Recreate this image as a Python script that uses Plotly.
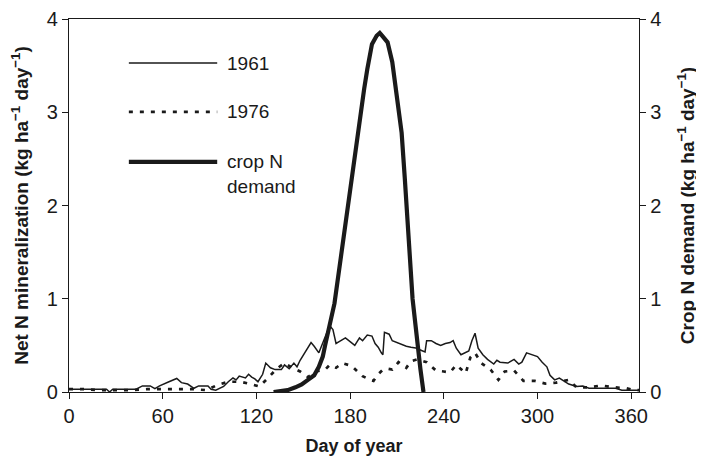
import plotly.graph_objects as go

# ---- data ----
days_1961 = [0, 10, 20, 24, 26, 28, 35, 43, 47, 52, 55, 58, 64, 69, 72, 76, 80, 83, 89, 91, 94, 99,
             102, 105, 107, 109, 113, 115, 117, 119, 121, 124, 126, 129, 132, 136, 138, 141, 144, 146,
             148, 151, 155, 157, 160, 164, 167, 169, 171, 173, 177, 180, 183, 186, 188, 191, 194, 196,
             198, 200, 201, 202, 205, 207, 210, 213, 216, 219, 223, 225, 228, 229, 232, 235, 238, 241,
             244, 246, 248, 251, 254, 256, 258, 260, 262, 265, 268, 272, 274, 276, 281, 285, 288, 290,
             293, 296, 300, 303, 306, 308, 311, 314, 317, 320, 325, 329, 333, 336, 343, 350, 354, 365]
vals_1961 = [0.03, 0.03, 0.03, 0.03, 0.0, 0.03, 0.03, 0.03, 0.065, 0.065, 0.035, 0.065, 0.11, 0.145,
             0.10, 0.085, 0.04, 0.065, 0.065, 0.03, 0.02, 0.06, 0.11, 0.15, 0.13, 0.17, 0.15, 0.19, 0.16,
             0.14, 0.11, 0.19, 0.31, 0.26, 0.24, 0.24, 0.29, 0.25, 0.31, 0.27, 0.34, 0.42, 0.53, 0.49,
             0.42, 0.59, 0.71, 0.67, 0.52, 0.54, 0.58, 0.54, 0.50, 0.58, 0.55, 0.61, 0.60, 0.52, 0.48,
             0.42, 0.40, 0.64, 0.62, 0.55, 0.53, 0.51, 0.49, 0.48, 0.47, 0.45, 0.43, 0.55, 0.55, 0.52,
             0.50, 0.52, 0.53, 0.55, 0.47, 0.40, 0.42, 0.44, 0.55, 0.63, 0.47, 0.40, 0.35, 0.30, 0.34,
             0.32, 0.31, 0.35, 0.30, 0.32, 0.42, 0.40, 0.38, 0.32, 0.27, 0.18, 0.13, 0.15, 0.12, 0.085,
             0.06, 0.065, 0.04, 0.04, 0.04, 0.04, 0.02, 0.02]

days_1976 = [0, 10, 20, 30, 40, 50, 60, 70, 80, 88, 95, 102, 110, 115, 122, 128, 133, 138, 143, 148,
             153, 158, 164, 167, 171, 175, 181, 186, 188, 193, 195, 198, 201, 204, 207, 211, 216, 219,
             223, 229, 235, 240, 244, 248, 254, 257, 260, 264, 270, 275, 279, 285, 291, 298, 305, 312,
             320, 325, 333, 341, 349, 357, 362, 365]
vals_1976 = [0.03, 0.03, 0.02, 0.02, 0.02, 0.03, 0.03, 0.03, 0.03, 0.02, 0.075, 0.11, 0.11, 0.09, 0.06,
             0.16, 0.25, 0.31, 0.26, 0.22, 0.16, 0.22, 0.24, 0.29, 0.26, 0.31, 0.28, 0.20, 0.17, 0.13,
             0.12, 0.19, 0.24, 0.25, 0.24, 0.32, 0.26, 0.33, 0.35, 0.32, 0.23, 0.22, 0.21, 0.29, 0.20,
             0.37, 0.42, 0.31, 0.24, 0.13, 0.22, 0.23, 0.12, 0.12, 0.09, 0.10, 0.13, 0.05, 0.05, 0.07,
             0.05, 0.04, 0.02, 0.02]

days_crop = [131, 136, 140, 145, 149, 153, 157, 160, 162.5, 164, 166, 168, 170, 172, 175, 178, 181,
             184, 187, 189, 191, 194, 197, 199, 201, 204, 207, 209.5, 211, 213, 215, 217, 219, 220,
             222, 223.5, 225, 227]
vals_crop = [0, 0.01, 0.02, 0.05, 0.08, 0.13, 0.18, 0.27, 0.38, 0.5, 0.67, 0.8, 0.95, 1.2, 1.55, 1.9,
             2.25, 2.65, 3.03, 3.25, 3.46, 3.73, 3.82, 3.85, 3.81, 3.75, 3.54, 3.25, 3.05, 2.78, 2.3,
             1.8, 1.3, 1.0, 0.7, 0.45, 0.25, 0]

x_ticks = [0, 60, 120, 180, 240, 300, 360]
y_ticks = [0, 1, 2, 3, 4]
legend_labels = ["1961", "1976", "crop N<br>demand"]

INK = "#1a1a1a"
FONT = "Liberation Sans, Arial, Helvetica, sans-serif"
style_1961 = dict(color=INK, width=1.5)
style_1976 = dict(color=INK, width=2.7, dash="4px,7px")
style_crop = dict(color=INK, width=4.2)

fig = go.Figure()
fig.add_trace(go.Scatter(x=days_1961, y=vals_1961, mode="lines", line=style_1961,
                         name="1961", showlegend=False))
fig.add_trace(go.Scatter(x=days_1976, y=vals_1976, mode="lines", line=style_1976,
                         name="1976", showlegend=False))
fig.add_trace(go.Scatter(x=days_crop, y=vals_crop, mode="lines", line=style_crop,
                         name="crop N demand", yaxis="y2", showlegend=False))

# manual legend (paper coordinates)
leg_y = [0.882, 0.751, 0.617]
for yy, st in zip(leg_y, [style_1961, style_1976, style_crop]):
    fig.add_shape(type="line", xref="paper", yref="paper", x0=0.105, x1=0.26, y0=yy, y1=yy,
                  line=st)
for yy, lab in zip(leg_y, legend_labels):
    two = "<br>" in lab
    fig.add_annotation(xref="paper", yref="paper", x=0.274, y=yy, text=lab, showarrow=False,
                       xanchor="left", yanchor="top" if two else "middle",
                       yshift=13 if two else 0,
                       align="left", font=dict(size=19, color=INK, family=FONT))

axis_common = dict(showline=True, linecolor=INK, linewidth=1.3, ticks="outside", ticklen=6,
                   tickcolor=INK, tickwidth=1.3, showgrid=False, zeroline=False, automargin=False,
                   tickfont=dict(size=20, color=INK, family=FONT))

fig.update_layout(
    width=704, height=457,
    margin=dict(l=61, r=73, t=11, b=73),
    paper_bgcolor="white", plot_bgcolor="white",
    font=dict(family=FONT, color=INK),
    xaxis=dict(range=[0, 365], tickvals=x_ticks, mirror=True,
               title=dict(text="<b>Day of year</b>", font=dict(size=18, color=INK, family=FONT),
                          standoff=13),
               **axis_common),
    yaxis=dict(range=[0, 4], tickvals=y_ticks,
               title=dict(text="<b>Net N mineralization (kg ha<sup>−1</sup> day<sup>−1</sup>)</b>",
                          font=dict(size=19, color=INK, family=FONT), standoff=14),
               **axis_common),
    yaxis2=dict(range=[0, 4], tickvals=y_ticks, overlaying="y", side="right",
                title=dict(text="<b>Crop N demand (kg ha<sup>−1</sup> day<sup>−1</sup>)</b>",
                           font=dict(size=19, color=INK, family=FONT), standoff=20),
                **axis_common),
)

fig.write_html("out.html")
